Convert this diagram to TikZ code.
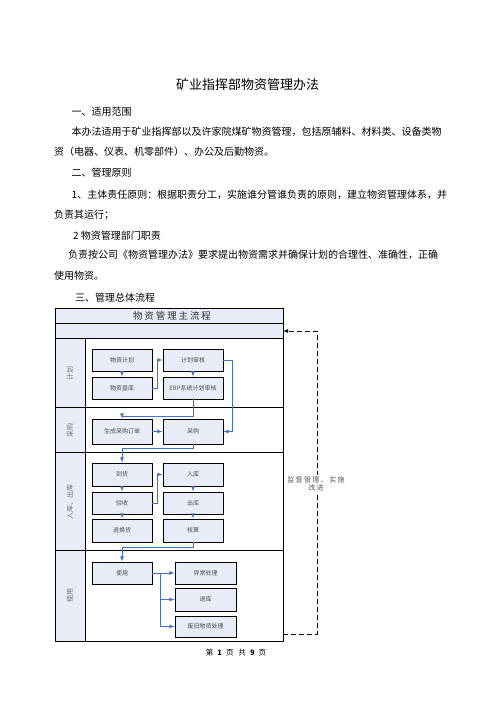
\documentclass[tikz,border=0pt]{standalone}
\usepackage{fontspec}
\setmainfont{Noto Sans CJK SC}
\usepackage{xcolor}
\usetikzlibrary{positioning}
\definecolor{paleblue}{RGB}{231,236,246}
\definecolor{flowblue}{RGB}{68,114,196}
\tikzset{
  textline/.style={anchor=west, inner sep=0pt, font=\fontsize{10}{10}\selectfont},
  box/.style={draw, line width=0.9pt, fill=paleblue, minimum width=60pt, minimum height=22pt,
    inner sep=0pt, font=\fontsize{6}{6}\selectfont, text=black!70},
  lanetitle/.style={rotate=90, font=\fontsize{7}{7}\selectfont, text=black!55},
  flow/.style={-latex, draw=flowblue, line width=0.8pt},
  feedback/.style={-latex, dash pattern=on 5pt off 3pt, line width=0.8pt},
}
\begin{document}
\begin{tikzpicture}[x=1pt, y=-1pt]
			%% Página
			\useasboundingbox[fill=white] (0,0) rectangle (496,702);

			%% Título e texto
			\node[font=\fontsize{13}{13}\selectfont] (title) at (247.5,85) {矿业指挥部物资管理办法};
			\node[textline] (sec1) at (71.5,111.5) {一、适用范围};
			\node[textline] (p1a) at (71.5,131.5) {本办法适用于矿业指挥部以及许家院煤矿物资管理，包括原辅料、材料类、设备类物};
			\node[textline] (p1b) at (54,151.5) {资（电器、仪表、机零部件）、办公及后勤物资。};
			\node[textline] (sec2) at (71.5,173) {二、管理原则};
			\node[textline] (p2a) at (71.5,195) {1、主体责任原则：根据职责分工，实施谁分管谁负责的原则，建立物资管理体系，并};
			\node[textline] (p2b) at (54,215) {负责其运行；};
			\node[textline] (p3) at (73,235.5) {2 物资管理部门职责};
			\node[textline] (p4a) at (68,255) {负责按公司《物资管理办法》要求提出物资需求并确保计划的合理性、准确性，正确};
			\node[textline] (p4b) at (54,275.5) {使用物资。};
			\node[textline] (sec3) at (75,297.5) {三、管理总体流程};

			%% Quadro
			\fill[paleblue] (55,308) rectangle (283,338);
			\fill[paleblue] (55,338) rectangle (85,641);
			\draw[line width=0.8pt] (55,308) rectangle (283,641);
			\draw[line width=0.8pt] (55,323) -- (283,323) (55,338) -- (283,338)
				(55,407) -- (283,407) (55,452) -- (283,452) (55,550) -- (283,550)
				(85,338) -- (85,641);
			\node[font=\fontsize{9.5}{9.5}\selectfont\addfontfeature{LetterSpace=20}, text=black!80] (head) at (172,315.5) {物资管理主流程};

			%% Faixas
			\node[lanetitle] (lplan) at (70,373) {计划};
			\node[lanetitle] (lbuy) at (70,430) {采购};
			\node[lanetitle] (lstore) at (70,502) {入库、出库};
			\node[lanetitle] (luse) at (70,595) {使用};

			%% Caixas
			\node[box] (plan) at (122,360) {物资计划};
			\node[box] (check) at (193,360) {计划审核};
			\node[box] (stock) at (122,388) {物资盘库};
			\node[box] (erp) at (193,388) {ERP系统计划审核};
			\node[box, minimum height=25pt] (order) at (122,431.5) {生成采购订单};
			\node[box, minimum height=25pt] (buy) at (193,431.5) {采购};
			\node[box, minimum height=23pt] (arrive) at (122,474.5) {到货};
			\node[box, minimum height=23pt] (instore) at (193,474.5) {入库};
			\node[box] (accept) at (122,503) {验收};
			\node[box] (outstore) at (193,503) {出库};
			\node[box, minimum height=23pt] (return) at (122,530.5) {退换货};
			\node[box, minimum height=23pt] (account) at (193,530.5) {核算};
			\node[box] (use) at (122,573) {使用};
			\node[box, minimum width=61pt] (abnormal) at (205.5,573) {异常处理};
			\node[box, minimum width=61pt, minimum height=23pt] (back) at (205.5,599.5) {退库};
			\node[box, minimum width=61pt, minimum height=21pt] (scrap) at (205.5,626.5) {废旧物资处理};

			%% Ligações
			\draw[flow] (plan) -- (stock);
			\draw[flow] (check) -- (erp);
			\draw[flow] (stock.east) -- ++(5,0) |- (check.west);
			\draw[flow] (check.east) -- ++(9,0) |- (buy.east);
			\draw[flow] (erp.south) -- ++(0,17) -| (order.north);
			\draw[flow] (order) -- (buy);
			\draw[flow] (buy.south) -- ++(0,4) -| (arrive.north);
			\draw[flow] (arrive) -- (accept);
			\draw[flow] (accept) -- (return);
			\draw[flow] (instore) -- (outstore);
			\draw[flow] (outstore) -- (account);
			\draw[flow] (accept.east) -- ++(5,0) |- (instore.west);
			\draw[flow] (account.south) -- ++(0,5) -| (use.north);
			\coordinate (fork) at (160,573);
			\draw[flow] (use.east) -- (abnormal.west);
			\draw[flow] (fork) |- (back.west);
			\draw[flow] (fork) |- (scrap.west);

			%% Retorno
			\coordinate (fbot) at (283,634);
			\coordinate (ftop) at (283,331);
			\draw[feedback] (fbot) -- ++(34,0) |- (ftop);
			\node[fill=white, inner sep=1pt, align=center, text=black!65,
				font=\fontsize{7}{8.5}\selectfont\addfontfeature{LetterSpace=20}] (note) at (316,484) {监督管理、实施\\改进};

			%% Rodapé
			\node[font=\fontsize{7.5}{7.5}\selectfont] (foot) at (236,653) {第\hspace{4pt}\textbf{1}\hspace{4pt}页\hspace{5pt}共\hspace{4pt}\textbf{9}\hspace{4pt}页};
		\end{tikzpicture}
\end{document}
